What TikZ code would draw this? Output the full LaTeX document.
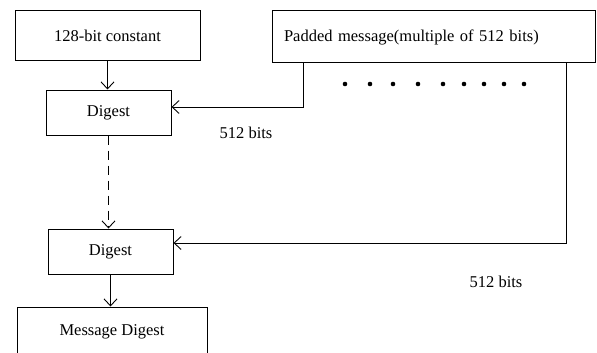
\documentclass[tikz,border=0pt]{standalone}
\usepackage{fontspec}
\setmainfont{Liberation Serif}
\usetikzlibrary{arrows.meta, positioning}

\tikzset{
	blk/.style={draw, line width=1pt, rectangle, inner sep=0pt, font=\fontsize{16.5}{19}\selectfont},
	barb/.style={-{Straight Barb[length=7pt, width=13pt, line width=0.9pt]}, line width=1pt}
}

\begin{document}
\begin{tikzpicture}[x=1pt, y=-1pt, font=\fontsize{16.5}{19}\selectfont]
			\useasboundingbox (0,0) rectangle (597,353);
			% boxes
			\node[blk, minimum width=185pt, minimum height=50pt] (const) at (107.5,36) {128-bit constant};
			\node[blk, minimum width=323pt, minimum height=52pt, text width=299pt, align=left, inner xsep=12pt] (padded) at (433.5,37) {Padded message(multiple of 512 bits)};
			\node[blk, minimum width=125pt, minimum height=45pt] (dig1) at (108.5,112.5) {Digest};
			\node[blk, minimum width=125pt, minimum height=45pt] (dig2) at (110.5,251.5) {Digest};
			\node[blk, minimum width=190pt, minimum height=50pt] (msg) at (112,332) {Message Digest};
			% the blocks of the message
			\foreach \x in {345,370,393,418,443,464,484,504,524}
			\fill (\x,84) circle (2.3pt);
			% taps on the padded message
			\coordinate (tap1) at (303,63);
			\coordinate (tap2) at (566,63);
			% connectors
			\draw[barb] (const.south) -- (const.south |- dig1.north);
			\draw[barb] (tap1) |- ([yshift=5.5pt]dig1.east);
			\draw[barb, dashed, dash pattern=on 9pt off 6pt] (dig1.south) -- (dig1.south |- dig2.north);
			\draw[barb] (tap2) |- ([yshift=8.5pt]dig2.east);
			\draw[barb] (dig2.south) -- (dig2.south |- msg.north);
			% labels
			\node (bits1) at (246,133) {512 bits};
			\node (bits2) at (496,282) {512 bits};
		\end{tikzpicture}
\end{document}
